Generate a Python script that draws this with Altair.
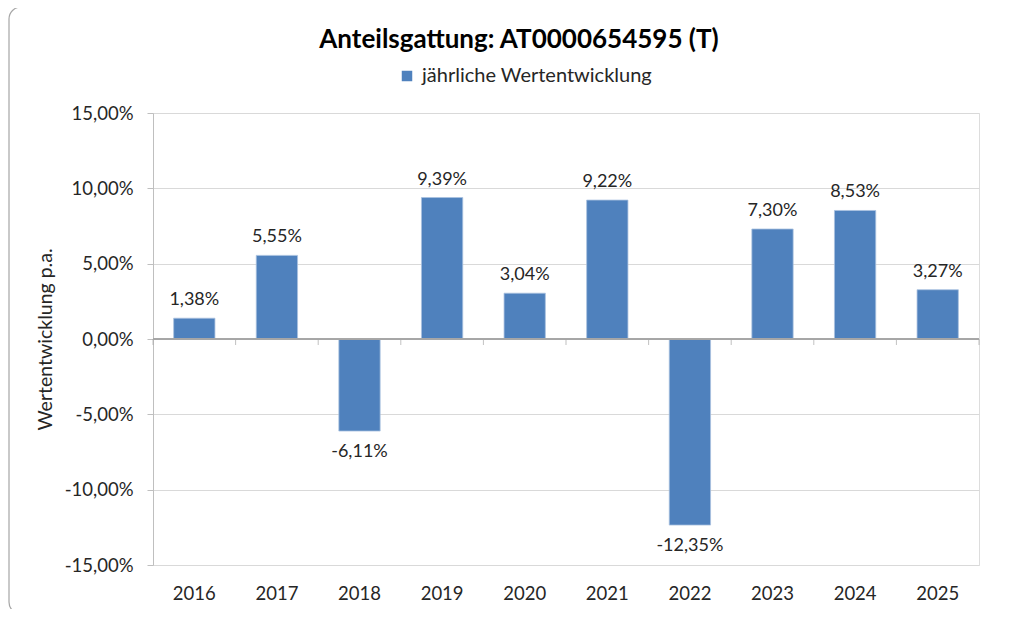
import altair as alt
import pandas as pd

years = ["2016", "2017", "2018", "2019", "2020", "2021", "2022", "2023", "2024", "2025"]
values = [1.38, 5.55, -6.11, 9.39, 3.04, 9.22, -12.35, 7.30, 8.53, 3.27]
series_name = "jährliche Wertentwicklung"

df = pd.DataFrame({
    "year": years,
    "value": values,
    "series": [series_name] * len(years),
})
df["label"] = [f"{v:.2f}".replace(".", ",") + "%" for v in values]

FONT = "Lato"
TXT = "#262626"
W, H = 826, 452
HALF_GAP = W / 10 * 0.25

base = alt.Chart(df)

x_enc = alt.X("year:N", title=None, sort=years,
              scale=alt.Scale(paddingInner=0.5, paddingOuter=0.25),
              axis=alt.Axis(domain=False, ticks=False, labelAngle=0, labelFontSize=18.5,
                            labelColor=TXT, labelFont=FONT, labelPadding=19))

y_scale = alt.Scale(domain=[-15, 15], nice=False, zero=False)

frame = alt.Chart(pd.DataFrame({"a": [0]})).mark_rect(
    fillOpacity=0, stroke="#A6A6A6", strokeWidth=1.2, cornerRadius=12
).encode(
    x=alt.value(-144), x2=alt.value(880),
    y=alt.value(-106), y2=alt.value(501),
)

bars = base.mark_bar(stroke="#A9C1E0", strokeWidth=0.8).encode(
    x=x_enc,
    y=alt.Y("value:Q", scale=y_scale, title="Wertentwicklung p.a.",
            axis=alt.Axis(values=[-15, -10, -5, 0, 5, 10, 15],
                          labelExpr="(datum.value < 0 ? '-' : '') + replace(format(abs(datum.value), '.2f'), '.', ',') + '%'",
                          labelFontSize=18.5, labelColor=TXT, labelFont=FONT, labelPadding=14,
                          tickSize=6, tickColor="#BFBFBF", domainColor="#BFBFBF",
                          gridColor="#D9D9D9", grid=True,
                          titleFontSize=19.5, titleFont=FONT, titleFontWeight="normal",
                          titleColor=TXT, titlePadding=9)),
    color=alt.Color("series:N", title=None,
                    scale=alt.Scale(range=["#4F81BD"]),
                    legend=alt.Legend(orient="none", legendX=244, legendY=-47,
                                      symbolType="square", symbolSize=110,
                                      symbolStrokeWidth=0, labelLimit=400,
                                      labelFontSize=20, labelFont=FONT, labelColor=TXT,
                                      labelOffset=5)),
)

zero = base.mark_rule(color="#A6A6A6", strokeWidth=1).encode(y=alt.datum(0, scale=y_scale))

ticks = base.mark_tick(orient="vertical", size=6, yOffset=3, xOffset=-HALF_GAP,
                       color="#A6A6A6", thickness=1).encode(
    x=alt.X("year:N", sort=years, bandPosition=0),
    y=alt.datum(0),
)
last_tick = base.transform_filter("datum.year == '2025'").mark_tick(
    orient="vertical", size=6, yOffset=3, xOffset=HALF_GAP, color="#A6A6A6", thickness=1
).encode(
    x=alt.X("year:N", sort=years, bandPosition=1),
    y=alt.datum(0),
)

pos_labels = base.transform_filter("datum.value >= 0").mark_text(
    dy=-18, fontSize=18, font=FONT, color=TXT, baseline="middle"
).encode(x=alt.X("year:N", sort=years), y=alt.Y("value:Q"), text="label:N")

neg_labels = base.transform_filter("datum.value < 0").mark_text(
    dy=21, fontSize=18, font=FONT, color=TXT, baseline="middle"
).encode(x=alt.X("year:N", sort=years), y=alt.Y("value:Q"), text="label:N")

chart = alt.layer(frame, bars, zero, ticks, last_tick, pos_labels, neg_labels).properties(
    width=W, height=H,
    title=alt.TitleParams("Anteilsgattung: AT0000654595 (T)", font=FONT, fontSize=26,
                          fontWeight="bold", color="#000000", anchor="middle", dx=-47, offset=-47),
    autosize=alt.AutoSizeParams(type="none"),
    padding={"left": 145, "top": 105, "right": 32, "bottom": 44},
).configure_view(stroke=None).configure(background="white")

chart.save("out.html", embed_options={"renderer": "svg", "actions": False})
